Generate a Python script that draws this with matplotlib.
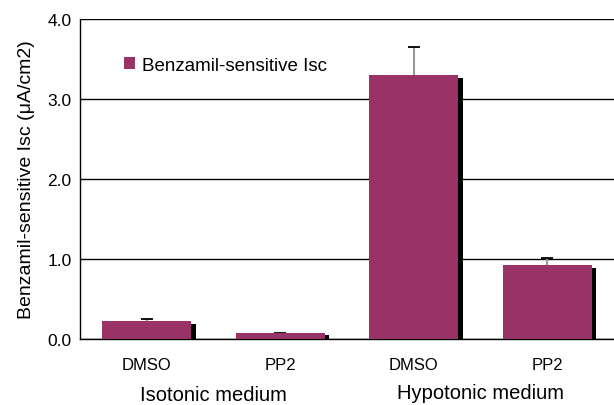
import numpy as np
import matplotlib.pyplot as plt
import matplotlib.patheffects as pe

plt.rcParams['font.family'] = ['Liberation Sans', 'DejaVu Sans']

labels = ['DMSO', 'PP2', 'DMSO', 'PP2']
groups = ['Isotonic medium', 'Hypotonic medium']
isc = [0.22, 0.08, 3.30, 0.92]
sem = [0.03, 0.0, 0.35, 0.09]

bar_color = '#993366'

fig = plt.figure(figsize=(6.14, 4.06), dpi=100)
ax = fig.add_axes([0.1303, 0.1626, 0.8697, 0.7881])

x = np.arange(len(isc))
bars = ax.bar(x, isc, width=0.67, color=bar_color, zorder=3,
              label='Benzamil-sensitive Isc')
for b in bars:
    b.set_path_effects([pe.SimplePatchShadow(offset=(3, -2), shadow_rgbFace='black', alpha=1.0),
                        pe.Normal()])

# upper error only: gray stem, black cap
err = ax.errorbar(x, isc, yerr=[np.zeros(len(sem)), sem], fmt='none',
                  ecolor='#999999', elinewidth=1.5, capsize=4, capthick=1.3, zorder=2)
lower_cap, upper_cap = err[1]
lower_cap.set_visible(False)
upper_cap.set_markeredgecolor('black')

ax.set_xlim(-0.5, 3.5)
ax.set_ylim(0, 4.0)
ax.set_yticks([0, 1, 2, 3, 4])
ax.set_yticklabels(['0.0', '1.0', '2.0', '3.0', '4.0'], fontsize=12.5)
ax.yaxis.grid(True, color='black', linewidth=1.0, zorder=0)
ax.set_axisbelow(True)
ax.set_xticks(x)
ax.set_xticklabels(labels, fontsize=12)
ax.tick_params(axis='x', length=0, pad=13)
ax.tick_params(axis='y', length=0, pad=6)
for s in ['top', 'right']:
    ax.spines[s].set_visible(False)
ax.spines['left'].set_linewidth(1.0)
ax.spines['bottom'].set_linewidth(1.0)

ax.set_ylabel('Benzamil-sensitive Isc (μA/cm2)', fontsize=14, labelpad=9)

# group names under the category labels
ax.text(0.5, -0.175, groups[0], transform=ax.get_xaxis_transform(),
        ha='center', va='center', fontsize=14.5)
ax.text(2.5, -0.168, groups[1], transform=ax.get_xaxis_transform(),
        ha='center', va='center', fontsize=14.5)

leg = ax.legend(loc='upper left', bbox_to_anchor=(0.05, 0.935), frameon=False,
                fontsize=13.5, handlelength=0.6, handleheight=0.6, handletextpad=0.4)
for h in leg.legend_handles:
    h.set_path_effects([])

fig.savefig('out.png', dpi=100)
